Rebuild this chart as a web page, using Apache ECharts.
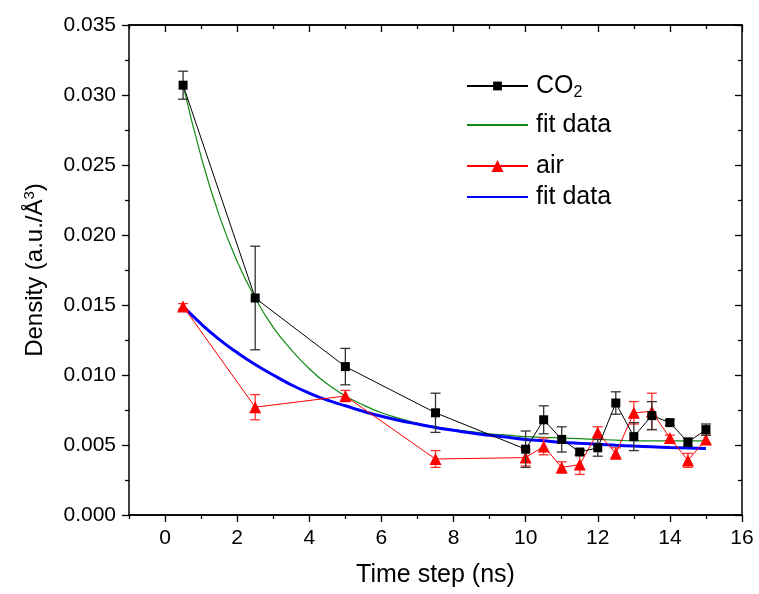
<!DOCTYPE html>
<html>
<head>
<meta charset="utf-8">
<script src="https://cdn.jsdelivr.net/npm/echarts@6/dist/echarts.min.js"></script>
<style>
  html, body { margin: 0; padding: 0; background: #fff; }
  #chart { width: 759px; height: 594px; }
</style>
</head>
<body>
<div id="chart"></div>
<script>
// Sampling times (ns)
const timeSteps = [0.5, 2.5, 5, 7.5, 10, 10.5, 11, 11.5, 12, 12.5, 13, 13.5, 14, 14.5, 15];

// CO2 density and its error
const co2Density = [0.0307, 0.0155, 0.0106, 0.0073, 0.0047, 0.0068, 0.0054, 0.0045, 0.0048, 0.0080, 0.0056, 0.0071, 0.0066, 0.0052, 0.0061];
const co2Error   = [0.0010, 0.0037, 0.0013, 0.0014, 0.0013, 0.0010, 0.0009, 0.0002, 0.0006, 0.0008, 0.0010, 0.0010, 0.0002, 0.0003, 0.0004];

// Air density and its error
const airDensity = [0.0149, 0.0077, 0.0085, 0.0040, 0.0041, 0.0049, 0.0034, 0.0036, 0.0059, 0.0044, 0.0073, 0.0074, 0.0055, 0.0039, 0.0054];
const airError   = [0.0002, 0.0009, 0.0004, 0.0006, 0.0006, 0.0006, 0.0004, 0.0007, 0.0004, 0.0004, 0.0008, 0.0013, 0.0002, 0.0005, 0.0003];

// Fitted decay curves, sampled every 0.5 ns
const fitTimes = [0.5, 1, 1.5, 2, 2.5, 3, 3.5, 4, 4.5, 5, 5.5, 6, 6.5, 7, 7.5, 8, 8.5, 9, 9.5, 10,
                  10.5, 11, 11.5, 12, 12.5, 13, 13.5, 14, 14.5, 15];
const co2Fit = [0.0307, 0.0256, 0.0214, 0.0181, 0.0155, 0.0134, 0.0118, 0.01045, 0.00935, 0.0085,
                0.00785, 0.0073, 0.0069, 0.00655, 0.0063, 0.0061, 0.00595, 0.0058, 0.0057, 0.0056,
                0.00555, 0.0055, 0.00545, 0.0054, 0.00535, 0.0053, 0.0053, 0.0053, 0.0053, 0.0053];
const airFit = [0.0149, 0.01365, 0.01255, 0.0116, 0.01075, 0.0100, 0.0093, 0.0087, 0.0082, 0.0078,
                0.0074, 0.00705, 0.00675, 0.0065, 0.00625, 0.00605, 0.00585, 0.0057, 0.00555, 0.0054,
                0.0053, 0.0052, 0.00512, 0.00505, 0.00498, 0.00492, 0.00487, 0.00482, 0.00478, 0.00475];

// Axis ticks
const xMajorTicks = [0, 2, 4, 6, 8, 10, 12, 14, 16];
const xMinorTicks = [-1, 1, 3, 5, 7, 9, 11, 13, 15];

const FONT = '"Liberation Sans", Arial, sans-serif';

const zip = (xs, ys) => xs.map((x, i) => [x, ys[i]]);
const zip3 = (xs, ys, es) => xs.map((x, i) => [x, ys[i], es[i]]);

function errorBars(color, cap) {
  return function (params, api) {
    const x = api.value(0), y = api.value(1), e = api.value(2);
    const hi = api.coord([x, y + e]);
    const lo = api.coord([x, y - e]);
    const st = { stroke: color, lineWidth: 1.3 };
    return {
      type: 'group',
      children: [
        { type: 'line', shape: { x1: hi[0], y1: hi[1], x2: lo[0], y2: lo[1] }, style: st },
        { type: 'line', shape: { x1: hi[0] - cap, y1: hi[1], x2: hi[0] + cap, y2: hi[1] }, style: st },
        { type: 'line', shape: { x1: lo[0] - cap, y1: lo[1], x2: lo[0] + cap, y2: lo[1] }, style: st }
      ]
    };
  };
}

const axisLine = { show: true, onZero: false, lineStyle: { color: '#000', width: 1.5 } };

function xAxisDef(position, ticks, len, inside, labels) {
  return {
    type: 'value', position: position, min: -1, max: 16,
    axisLine: axisLine,
    splitLine: { show: false },
    axisTick: { show: true, inside: inside, length: len, customValues: ticks, lineStyle: { color: '#000', width: 1.3 } },
    axisLabel: labels
      ? { show: true, customValues: xMajorTicks, margin: 13, color: '#000', fontSize: 21, fontFamily: FONT }
      : { show: false }
  };
}

const chart = echarts.init(document.getElementById('chart'), null, { renderer: 'canvas' });

chart.setOption({
  backgroundColor: '#fff',
  animation: false,
  grid: { left: 129, right: 17, top: 25, bottom: 79 },
  xAxis: [
    Object.assign(xAxisDef('bottom', xMajorTicks, 7, false, true), {
      name: 'Time step (ns)', nameLocation: 'middle', nameGap: 48,
      nameTextStyle: { color: '#000', fontSize: 25, fontFamily: FONT }
    }),
    xAxisDef('bottom', xMinorTicks, 4, false, false),
    xAxisDef('top', xMajorTicks, 7, true, false),
    xAxisDef('top', xMinorTicks, 4, true, false)
  ],
  yAxis: [
    {
      type: 'value', position: 'left', min: 0, max: 0.035, interval: 0.005,
      name: 'Density (a.u./Å{sup|3})', nameLocation: 'middle', nameGap: 80,
      nameTextStyle: {
        color: '#000', fontSize: 24, fontFamily: FONT,
        rich: { sup: { fontSize: 15, fontFamily: FONT, color: '#000', verticalAlign: 'top', padding: [0, 0, 12, 0] } }
      },
      axisLine: axisLine,
      splitLine: { show: false },
      axisTick: { show: true, length: 7, lineStyle: { color: '#000', width: 1.3 } },
      minorTick: { show: true, splitNumber: 2, length: 4, lineStyle: { color: '#000', width: 1.3 } },
      axisLabel: { margin: 13, color: '#000', fontSize: 21, fontFamily: FONT, formatter: v => v.toFixed(3) }
    },
    {
      type: 'value', position: 'right', min: 0, max: 0.035, interval: 0.005,
      axisLine: axisLine,
      splitLine: { show: false },
      axisTick: { show: true, inside: true, length: 7, lineStyle: { color: '#000', width: 1.3 } },
      minorTick: { show: true, splitNumber: 2, length: 4, lineStyle: { color: '#000', width: 1.3 } },
      axisLabel: { show: false }
    }
  ],
  legend: [
    {
      orient: 'vertical', left: 466, top: 71, itemGap: 9, padding: 0,
      itemWidth: 61, itemHeight: 11,
      data: ['CO2', 'CO2 fit'],
      formatter: n => (n === 'CO2' ? 'CO{sub|2}' : 'fit data'),
      textStyle: {
        color: '#000', fontSize: 25, fontFamily: FONT, lineHeight: 30, padding: [0, 0, 0, 3],
        rich: { sub: { fontSize: 16, fontFamily: FONT, color: '#000', verticalAlign: 'bottom', padding: [14, 0, 0, 0] } }
      }
    },
    {
      orient: 'vertical', left: 466, top: 151, itemGap: 1, padding: 0,
      itemWidth: 61, itemHeight: 15,
      data: ['air', 'air fit'],
      formatter: n => (n === 'air' ? 'air' : 'fit data'),
      textStyle: { color: '#000', fontSize: 25, fontFamily: FONT, lineHeight: 30, padding: [0, 0, 0, 3] }
    }
  ],
  series: [
    {
      name: 'CO2 fit', type: 'line', smooth: 0.5, symbol: 'none',
      data: zip(fitTimes, co2Fit),
      lineStyle: { color: '#118a11', width: 1.2 }, itemStyle: { color: 'rgba(0,0,0,0)' }, z: 2
    },
    {
      name: 'air fit', type: 'line', smooth: 0.5, symbol: 'none',
      data: zip(fitTimes, airFit),
      lineStyle: { color: '#0000ff', width: 3 }, itemStyle: { color: 'rgba(0,0,0,0)' }, z: 3
    },
    {
      name: 'air err', type: 'custom', renderItem: errorBars('#ff3030', 5),
      encode: { x: 0, y: 1 }, data: zip3(timeSteps, airDensity, airError), z: 4
    },
    {
      name: 'air', type: 'line', symbol: 'triangle', symbolSize: 12,
      data: zip(timeSteps, airDensity),
      lineStyle: { color: '#ff0000', width: 1 }, itemStyle: { color: '#ff0000' }, z: 5
    },
    {
      name: 'CO2 err', type: 'custom', renderItem: errorBars('#333', 5),
      encode: { x: 0, y: 1 }, data: zip3(timeSteps, co2Density, co2Error), z: 6
    },
    {
      name: 'CO2', type: 'line', symbol: 'rect', symbolSize: 9,
      data: zip(timeSteps, co2Density),
      lineStyle: { color: '#000', width: 1 }, itemStyle: { color: '#000' }, z: 7
    }
  ]
});
</script>
</body>
</html>
